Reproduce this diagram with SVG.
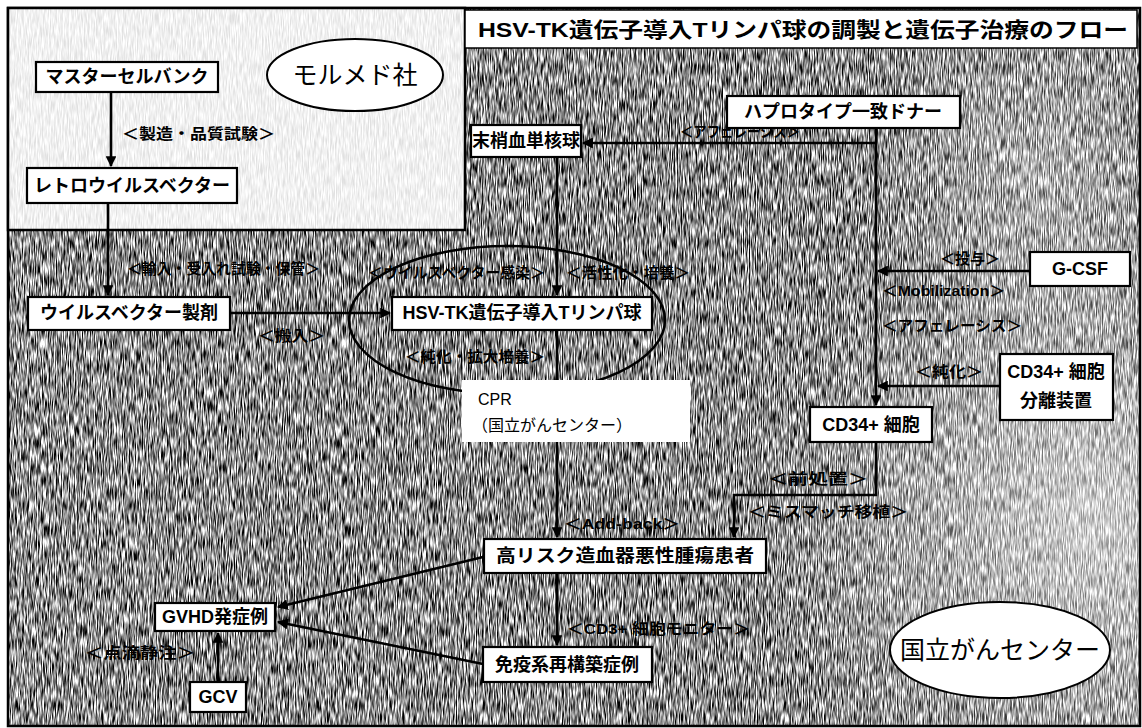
<svg xmlns="http://www.w3.org/2000/svg" width="1142" height="728" viewBox="0 0 1142 728">
<style>
.t{font-family:"Liberation Sans","Noto Sans CJK JP",sans-serif;fill:#000}
.n{font-size:18px;font-weight:bold;text-anchor:middle;dominant-baseline:central}
.l{font-size:15px;font-weight:bold;dominant-baseline:central}
.e{font-size:25px;text-anchor:middle;dominant-baseline:central}
.box{fill:#fff;stroke:#000;stroke-width:2.2}
.c{fill:none;stroke:#000;stroke-width:2.6}
</style>
<defs>
<filter id="tex" x="0" y="0" width="1" height="1" color-interpolation-filters="sRGB">
<feTurbulence type="fractalNoise" baseFrequency="0.85 0.08" numOctaves="2" seed="11"/>
<feColorMatrix type="matrix" values="1 0 0 0 0 1 0 0 0 0 1 0 0 0 0 0 0 0 0 1"/>
<feComponentTransfer>
<feFuncR type="linear" slope="2.2" intercept="-0.55"/>
<feFuncG type="linear" slope="2.2" intercept="-0.55"/>
<feFuncB type="linear" slope="2.2" intercept="-0.55"/>
</feComponentTransfer>
</filter>
<radialGradient id="light" cx="1090" cy="520" r="330" gradientUnits="userSpaceOnUse">
<stop offset="0" stop-color="#fff" stop-opacity="0.6"/>
<stop offset="1" stop-color="#fff" stop-opacity="0"/>
</radialGradient>
<radialGradient id="light2" cx="1040" cy="170" r="200" gradientUnits="userSpaceOnUse">
<stop offset="0" stop-color="#fff" stop-opacity="0.35"/>
<stop offset="1" stop-color="#fff" stop-opacity="0"/>
</radialGradient>
<marker id="ah" viewBox="0 0 10 10" refX="9" refY="5" markerWidth="4.2" markerHeight="4.2" orient="auto" markerUnits="strokeWidth">
<path d="M0,0 L10,5 L0,10 z" fill="#000"/>
</marker>
</defs>

<g id="background">
<rect x="0" y="0" width="1142" height="728" fill="#fff"/>
<rect x="8" y="8" width="1132" height="718" fill="#888" filter="url(#tex)"/>
<rect x="8" y="8" width="1132" height="718" fill="url(#light)"/>
<rect x="8" y="8" width="1132" height="718" fill="url(#light2)"/>
<rect x="8" y="8" width="1132" height="718" fill="none" stroke="#000" stroke-width="2.5"/>
<rect id="molmed-area" x="8" y="8" width="457" height="222" fill="#fff" fill-opacity="0.88" stroke="#000" stroke-width="2.5"/>
</g>

<g id="title">
<rect x="465" y="10" width="672" height="38" fill="#fff" stroke="#000" stroke-width="1.5"/>
<text class="t" x="478" y="29" font-size="21" font-weight="bold" dominant-baseline="central" textLength="650" lengthAdjust="spacingAndGlyphs">HSV-TK遺伝子導入Tリンパ球の調製と遺伝子治療のフロー</text>
</g>

<g id="connectors">
<path class="c" d="M111,92 V166" marker-end="url(#ah)"/>
<path class="c" d="M108,203 V295" marker-end="url(#ah)"/>
<path class="c" d="M230,313 H390" marker-end="url(#ah)"/>
<path class="c" d="M557,157 V295" marker-end="url(#ah)"/>
<path class="c" d="M557,330 V537" marker-end="url(#ah)"/>
<path class="c" d="M876,128 V405" marker-end="url(#ah)"/>
<path class="c" d="M876,143 H583" marker-end="url(#ah)"/>
<path class="c" d="M1030,271 H878" marker-end="url(#ah)"/>
<path class="c" d="M1000,386 H878" marker-end="url(#ah)"/>
<path class="c" d="M876,442 V495 H734 V537" marker-end="url(#ah)"/>
<path class="c" d="M557,573 V645" marker-end="url(#ah)"/>
<path class="c" d="M483,557 L278,607" marker-end="url(#ah)"/>
<path class="c" d="M483,664 L278,622" marker-end="url(#ah)"/>
<path class="c" d="M218,682 V633" marker-end="url(#ah)"/>
</g>

<g id="connector-labels">
<text class="t l" x="122" y="133" textLength="153" lengthAdjust="spacingAndGlyphs">＜製造・品質試験＞</text>
<text class="t l" x="127" y="268" textLength="193" lengthAdjust="spacingAndGlyphs">＜輸入・受入れ試験・保管＞</text>
<text class="t l" x="368" y="272" textLength="177" lengthAdjust="spacingAndGlyphs">＜ウイルスベクター感染＞</text>
<text class="t l" x="566" y="272" textLength="124" lengthAdjust="spacingAndGlyphs">＜活性化・培養＞</text>
<text class="t l" x="258" y="335" textLength="67" lengthAdjust="spacingAndGlyphs">＜搬入＞</text>
<text class="t l" x="405" y="356" textLength="140" lengthAdjust="spacingAndGlyphs">＜純化・拡大培養＞</text>
<text class="t l" x="680" y="131" textLength="120" lengthAdjust="spacingAndGlyphs">＜アフェレーシス＞</text>
<text class="t l" x="940" y="258" textLength="60" lengthAdjust="spacingAndGlyphs">＜投与＞</text>
<text class="t l" x="882" y="290" textLength="123" lengthAdjust="spacingAndGlyphs">＜Mobilization＞</text>
<text class="t l" x="882" y="325" textLength="140" lengthAdjust="spacingAndGlyphs">＜アフェレーシス＞</text>
<text class="t l" x="915" y="371" textLength="68" lengthAdjust="spacingAndGlyphs">＜純化＞</text>
<text class="t l" x="768" y="478" textLength="100" lengthAdjust="spacingAndGlyphs">＜前処置＞</text>
<text class="t l" x="748" y="511" textLength="160" lengthAdjust="spacingAndGlyphs">＜ミスマッチ移植＞</text>
<text class="t l" x="564" y="523" textLength="116" lengthAdjust="spacingAndGlyphs">＜Add-back＞</text>
<text class="t l" x="567" y="628" textLength="183" lengthAdjust="spacingAndGlyphs">＜CD3+ 細胞モニター＞</text>
<text class="t l" x="85" y="652" textLength="110" lengthAdjust="spacingAndGlyphs">＜点滴静注＞</text>
</g>

<g id="node-molmed">
<ellipse cx="355" cy="75" rx="88" ry="36" fill="#fff" stroke="#000" stroke-width="2"/>
<text class="t e" x="355" y="75">モルメド社</text>
</g>
<g id="node-master">
<rect class="box" x="36" y="62" width="182" height="30"/>
<text class="t n" x="127" y="77">マスターセルバンク</text>
</g>
<g id="node-retro">
<rect class="box" x="27" y="168" width="210" height="35"/>
<text class="t n" x="132" y="186">レトロウイルスベクター</text>
</g>
<g id="node-vector">
<rect class="box" x="28" y="297" width="202" height="33"/>
<text class="t n" x="129" y="313">ウイルスベクター製剤</text>
</g>
<g id="node-tk-cell-ellipse">
<ellipse cx="507" cy="320" rx="158" ry="74" fill="none" stroke="#000" stroke-width="2.6"/>
</g>
<g id="node-hsvtk">
<rect class="box" x="392" y="297" width="260" height="33"/>
<text class="t n" x="522" y="313">HSV-TK遺伝子導入Tリンパ球</text>
</g>
<g id="node-pbmc">
<rect class="box" x="471" y="125" width="110" height="32"/>
<text class="t n" x="526" y="141" font-size="16">末梢血単核球</text>
</g>
<g id="node-donor">
<rect class="box" x="727" y="96" width="233" height="32"/>
<text class="t n" x="843" y="112">ハプロタイプ一致ドナー</text>
</g>
<g id="node-gcsf">
<rect class="box" x="1030" y="252" width="100" height="34"/>
<text class="t n" x="1080" y="269">G-CSF</text>
</g>
<g id="node-separator">
<rect class="box" x="1000" y="354" width="113" height="66"/>
<text class="t n" x="1056" y="372">CD34+ 細胞</text>
<text class="t n" x="1056" y="401">分離装置</text>
</g>
<g id="node-cpr">
<rect x="462" y="380" width="228" height="62" fill="#fff"/>
<text class="t" x="478" y="399" font-size="16" dominant-baseline="central">CPR</text>
<text class="t" x="472" y="425" font-size="16" dominant-baseline="central">（国立がんセンター）</text>
</g>
<g id="node-cd34">
<rect class="box" x="810" y="407" width="122" height="35"/>
<text class="t n" x="871" y="425">CD34+ 細胞</text>
</g>
<g id="node-patient">
<rect class="box" x="484" y="539" width="282" height="34"/>
<text class="t n" x="625" y="556" textLength="258" lengthAdjust="spacingAndGlyphs">高リスク造血器悪性腫瘍患者</text>
</g>
<g id="node-gvhd">
<rect class="box" x="155" y="603" width="120" height="28"/>
<text class="t n" x="215" y="617">GVHD発症例</text>
</g>
<g id="node-immune">
<rect class="box" x="483" y="647" width="169" height="35"/>
<text class="t n" x="567" y="665">免疫系再構築症例</text>
</g>
<g id="node-gcv">
<rect class="box" x="190" y="682" width="56" height="30"/>
<text class="t n" x="218" y="697">GCV</text>
</g>
<g id="node-ncc">
<ellipse cx="1000" cy="650" rx="110" ry="48" fill="#fff" stroke="#000" stroke-width="2"/>
<text class="t e" x="1000" y="650" font-size="26">国立がんセンター</text>
</g>
</svg>
